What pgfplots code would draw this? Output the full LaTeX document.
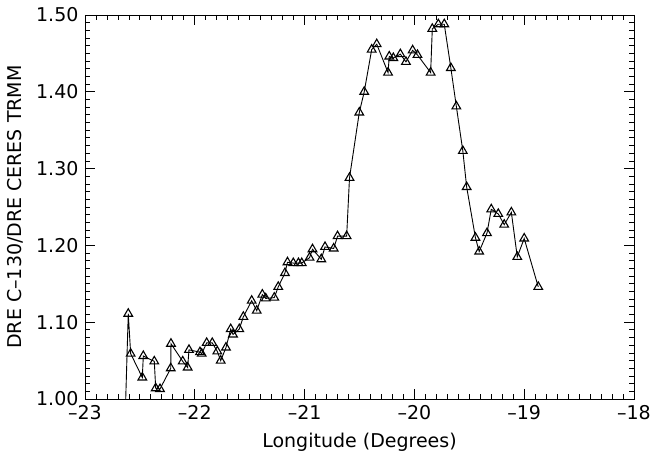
\documentclass[border=0pt]{standalone}
\usepackage{fontspec}
\setmainfont{DejaVu Sans}
\usepackage{pgfplots}
\pgfplotsset{compat=1.18}

\pgfplotstableread{
x y
-22.650 0.900
-22.606 1.111
-22.584 1.059
-22.478 1.028
-22.469 1.056
-22.369 1.049
-22.356 1.014
-22.317 1.013
-22.219 1.040
-22.217 1.072
-22.110 1.049
-22.065 1.041
-22.053 1.064
-21.953 1.061
-21.937 1.059
-21.892 1.073
-21.841 1.073
-21.795 1.062
-21.764 1.050
-21.716 1.067
-21.673 1.091
-21.652 1.084
-21.595 1.091
-21.558 1.107
-21.482 1.128
-21.436 1.115
-21.385 1.136
-21.354 1.131
-21.276 1.132
-21.240 1.146
-21.179 1.164
-21.156 1.178
-21.103 1.177
-21.056 1.177
-21.026 1.177
-20.955 1.184
-20.928 1.195
-20.848 1.182
-20.814 1.198
-20.735 1.196
-20.700 1.212
-20.617 1.212
-20.591 1.288
-20.502 1.373
-20.457 1.400
-20.389 1.455
-20.343 1.462
-20.240 1.425
-20.229 1.446
-20.192 1.444
-20.128 1.449
-20.077 1.439
-20.016 1.454
-19.972 1.448
-19.852 1.425
-19.837 1.482
-19.782 1.488
-19.728 1.488
-19.668 1.431
-19.618 1.381
-19.559 1.323
-19.524 1.276
-19.444 1.210
-19.410 1.192
-19.339 1.216
-19.300 1.247
-19.236 1.241
-19.182 1.227
-19.117 1.243
-19.063 1.185
-19.000 1.209
-18.872 1.146
}\dretable

\begin{document}
\fontsize{19bp}{22bp}\selectfont
\begin{tikzpicture}
\path[use as bounding box] (-85bp,-52bp) rectangle (567bp,399bp);
\begin{axis}[
  at={(0,0)}, anchor=south west,
  width=549bp, height=384bp, scale only axis,
  xmin=-23, xmax=-18, ymin=1.0, ymax=1.5,
  xtick={-23,-22,-21,-20,-19,-18},
  xticklabels={–23,–22,–21,–20,–19,–18},
  ytick={1.0,1.1,1.2,1.3,1.4,1.5},
  yticklabels={1.00,1.10,1.20,1.30,1.40,1.50},
  minor x tick num=9, minor y tick num=9,
  tick align=inside,
  major tick length=10bp, minor tick length=5bp,
  every tick/.style={black, line width=0.8bp},
  axis line style={line width=0.9bp},
  tick label style={font=\fontsize{19bp}{22bp}\selectfont},
  label style={font=\fontsize{19bp}{22bp}\selectfont},
  xlabel={Longitude (Degrees)},
  ylabel={DRE C–130/DRE CERES TRMM},
  clip=true,
]
\addplot[black, line width=0.9bp, mark=triangle,
  mark size=5bp, mark options={solid, line width=1.1bp}]
  table[x=x, y=y] {\dretable};
\end{axis}
\end{tikzpicture}
\end{document}
